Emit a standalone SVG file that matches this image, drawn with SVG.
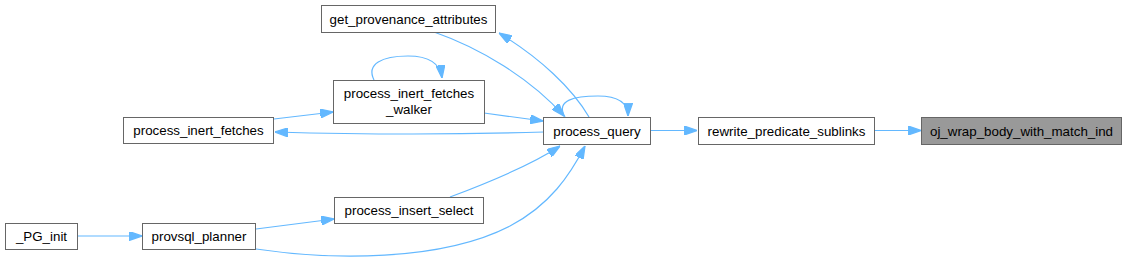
<svg xmlns="http://www.w3.org/2000/svg" width="1127" height="265" viewBox="0 0 1127 265">
<style>
.n rect{fill:#fff;stroke:#666;stroke-width:1}
.n.hl rect{fill:#999}
.n text{font-family:"Liberation Sans",Arial,sans-serif;font-size:13.33px;fill:#000;text-anchor:middle}
.e path{fill:none;stroke:#63b8ff;stroke-width:1.2}
</style>
<defs>
<marker id="ah" viewBox="0 0 10 7" refX="10" refY="3.5" markerWidth="13" markerHeight="9" markerUnits="userSpaceOnUse" orient="auto">
<path d="M0,0 L10,3.5 L0,7 z" fill="#63b8ff" stroke="#63b8ff"/>
</marker>
</defs>
<rect width="1127" height="265" fill="#fff"/>
<g class="e" id="edges">
<path d="M874,130.5 L921,130.5" marker-end="url(#ah)"/>
<path d="M651,130.5 L697,130.5" marker-end="url(#ah)"/>
<path d="M589,117 C572,88 540,58 499,33" marker-end="url(#ah)"/>
<path d="M434,32 C480,48 530,78 564,116" marker-end="url(#ah)"/>
<path d="M565,117 C555,100 575,96 598,96 C616,96 628,101 628,116" marker-end="url(#ah)"/>
<path d="M484,113 L543,121" marker-end="url(#ah)"/>
<path d="M374,80 C366,64 382,56 408,56 C428,56 440,62 442,78" marker-end="url(#ah)"/>
<path d="M274,119 L333,112" marker-end="url(#ah)"/>
<path d="M544,132 C480,134 380,135 275,132" marker-end="url(#ah)"/>
<path d="M450,197 C482,185 530,166 560,146" marker-end="url(#ah)"/>
<path d="M256,249 C330,260 440,262 510,226 C550,205 570,175 585,146" marker-end="url(#ah)"/>
<path d="M256,229 L334,219" marker-end="url(#ah)"/>
<path d="M77,236 L142,236" marker-end="url(#ah)"/>
</g>
<g class="n" id="get_provenance_attributes"><rect x="321.5" y="5.5" width="174" height="27"/><text x="408.5" y="23.5">get_provenance_attributes</text></g>
<g class="n" id="process_inert_fetches_walker"><rect x="333.5" y="80.5" width="151" height="43"/><text x="409" y="98">process_inert_fetches</text><text x="409" y="114">_walker</text></g>
<g class="n" id="process_query"><rect x="543.5" y="117.5" width="107" height="27"/><text x="597" y="135.5">process_query</text></g>
<g class="n" id="process_inert_fetches"><rect x="123.5" y="117.5" width="150" height="26"/><text x="198.5" y="135">process_inert_fetches</text></g>
<g class="n" id="process_insert_select"><rect x="334.5" y="197.5" width="149" height="26"/><text x="409" y="215">process_insert_select</text></g>
<g class="n" id="provsql_planner"><rect x="142.5" y="223.5" width="113" height="26"/><text x="199" y="241">provsql_planner</text></g>
<g class="n" id="_PG_init"><rect x="5.5" y="223.5" width="72" height="26"/><text x="41.5" y="241">_PG_init</text></g>
<g class="n" id="rewrite_predicate_sublinks"><rect x="698.5" y="117.5" width="176" height="27"/><text x="786.5" y="135.5">rewrite_predicate_sublinks</text></g>
<g class="n hl" id="oj_wrap_body_with_match_ind"><rect x="921.5" y="117.5" width="200" height="27"/><text x="1021.5" y="135.5">oj_wrap_body_with_match_ind</text></g>
</svg>
